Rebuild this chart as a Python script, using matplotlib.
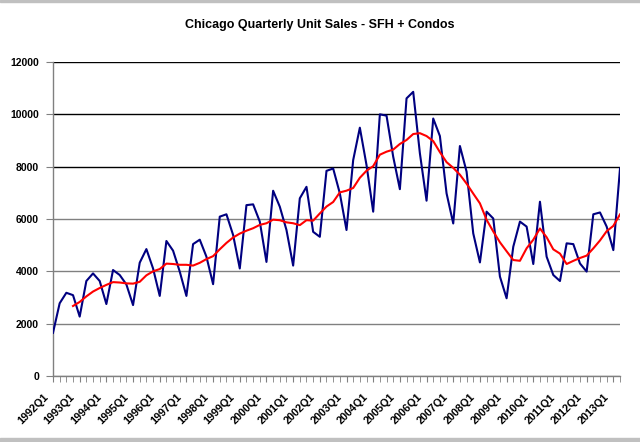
import matplotlib
matplotlib.use("Agg")
import matplotlib.pyplot as plt
from matplotlib.ticker import MultipleLocator, FixedLocator, NullFormatter
import matplotlib.transforms as mtransforms
import pandas as pd

# ---- data ----
years = list(range(1992, 2014))
quarters = [f"{y}Q{q}" for y in years for q in (1, 2, 3, 4)][:86]

unit_sales = [
    1650, 2780, 3180, 3090, 2270, 3630, 3920, 3630, 2750, 4050,
    3860, 3500, 2710, 4330, 4850, 4110, 3060, 5160, 4790, 3990,
    3060, 5040, 5210, 4560, 3510, 6090, 6180, 5390, 4110, 6530,
    6560, 5900, 4360, 7080, 6470, 5580, 4220, 6790, 7230, 5510,
    5320, 7840, 7930, 6980, 5580, 8250, 9490, 8060, 6280, 10000,
    9950, 8380, 7140, 10610, 10860, 8510, 6700, 9840, 9170, 6980,
    5830, 8790, 7810, 5450, 4340, 6280, 6020, 3800, 2970, 4940,
    5900, 5710, 4280, 6660, 4560, 3860, 3630, 5070, 5040, 4300,
    3990, 6180, 6250, 5710, 4810, 7930,
]
ma_period = 4
title = "Chicago Quarterly Unit Sales - SFH + Condos"
y_ticks = [0, 2000, 4000, 6000, 8000, 10000, 12000]

# 4-period moving average trendline (as in the original spreadsheet trendline)
moving_avg = pd.Series(unit_sales).rolling(ma_period).mean()

plt.rcParams['font.family'] = ['Liberation Sans', 'DejaVu Sans']

fig = plt.figure(figsize=(6.4, 4.42), dpi=100)
ax = fig.add_axes([53/640, 1-376/442, (620-53)/640, (376-62)/442])

x = list(range(len(unit_sales)))
ax.plot(x, unit_sales, color='#000080', lw=1.5, zorder=3)
ax.plot(x, moving_avg, color='#FF0000', lw=1.5, zorder=4)

ax.set_xlim(0, len(unit_sales) - 1)
ax.set_ylim(0, 12000)
ax.set_yticks(y_ticks)
ax.set_yticklabels([str(v) for v in y_ticks], fontsize=7.5, fontweight='bold')

major_pos = [i for i, q in enumerate(quarters) if q.endswith("Q1")]
ax.xaxis.set_major_locator(FixedLocator(major_pos))
ax.xaxis.set_major_formatter(NullFormatter())
ax.xaxis.set_minor_locator(MultipleLocator(1))

# rotated category labels, shifted like the original
lbl_tr = ax.get_xaxis_transform() + mtransforms.ScaledTranslation(-10/100, -16/100, fig.dpi_scale_trans)
for i in major_pos:
    ax.text(i, 0, quarters[i], transform=lbl_tr, rotation=45, ha='right', va='top',
            rotation_mode='anchor', fontsize=7.8, fontweight='bold', clip_on=False)

ax.tick_params(axis='y', which='major', length=5, color='#808080', pad=5)
ax.tick_params(axis='x', which='both', length=4, color='#808080', direction='out', pad=3)

for s in ('top', 'right'):
    ax.spines[s].set_visible(False)
for s in ('left', 'bottom'):
    ax.spines[s].set_color('#808080')
    ax.spines[s].set_linewidth(1.0)

ax.yaxis.grid(True, lw=1.0)
for val, gl in zip(y_ticks, ax.get_ygridlines()):
    gl.set_color('#000000' if val >= 8000 else '#808080')
ax.set_axisbelow(True)

fig.text(0.5, 1 - 25/442, title, ha='center', va='center', fontsize=9, fontweight='bold')

# figure frame bars
fig.patches.append(plt.Rectangle((0, 1 - 1.5/442), 1, 1.5/442, transform=fig.transFigure,
                                 color='#c0c0c0', zorder=0))
fig.patches.append(plt.Rectangle((0, 0), 1, 4/442, transform=fig.transFigure,
                                 color='#c0c0c0', zorder=0))

fig.savefig('out.png', dpi=100)
